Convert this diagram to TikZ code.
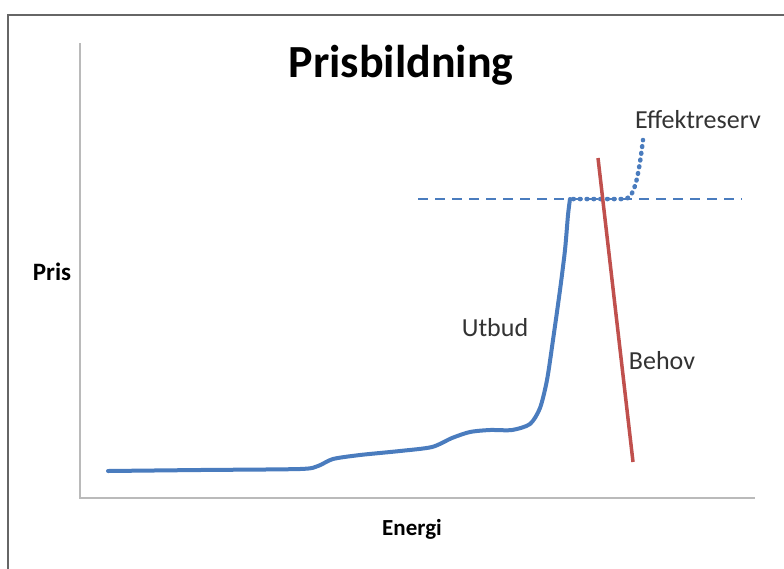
\documentclass[tikz,border=0pt]{standalone}
\usepackage{fontspec}
\setmainfont{Carlito}
\begin{document}
\begin{tikzpicture}[x=1pt,y=-1pt,
  frameline/.style={draw=black!60, line width=2pt},
  axisline/.style={draw=black!27, line width=2.5pt},
  supply/.style={draw=supplyblue, line width=4pt, line cap=round, line join=round},
  demand/.style={draw=demandred, line width=3.5pt},
  pricelevel/.style={draw=supplyblue, line width=2pt, dash pattern=on 10pt off 7pt},
  reserve/.style={draw=supplyblue, line width=4.5pt, line cap=round, dash pattern=on 0.8pt off 6pt},
  label/.style={text=black!80, font=\fontsize{26}{29}\selectfont, inner sep=0pt},
  boldlabel/.style={text=black, font=\fontsize{25}{28}\selectfont\bfseries, inner sep=0pt}
]
\definecolor{supplyblue}{RGB}{74,124,190}
\definecolor{demandred}{RGB}{192,80,77}
\useasboundingbox (0,0) rectangle (784,568);
\fill[white] (0,0) rectangle (784,568);

% slide frame (runs off to the right and bottom)
\coordinate (fTR) at (790,15);
\coordinate (fTL) at (8,15);
\coordinate (fBL) at (8,575);
\draw[frameline] (fTR) -- (fTL) -- (fBL);

% axes
\coordinate (yTop) at (80,43);
\coordinate (orig) at (80,498);
\coordinate (xEnd) at (755,498);
\draw[axisline] (yTop) -- (orig) -- (xEnd);

% price level and capacity reserve
\coordinate (pL) at (418,199);
\coordinate (pR) at (742,199);
\draw[pricelevel] (pL) -- (pR);
\draw[reserve] (573,199) -- (624,199) .. controls (634,199) and (638,180) .. (643,140);

% supply curve
\draw[supply] plot[smooth, tension=0.45] coordinates {
  (108,471) (200,470) (300,469) (318,466) (333,459) (360,455) (400,451)
  (432,447) (452,438) (470,432) (490,430) (512,430) (530,424) (540,408)
  (547,380) (553,340) (560,290) (565,250) (568,215) (570,199)};

% demand line
\coordinate (dTop) at (598,158);
\coordinate (dBot) at (633,462);
\draw[demand] (dTop) -- (dBot);

% texts
\node[text=black, font=\fontsize{46}{50}\selectfont\bfseries, inner sep=0pt] (title) at (401,65) {Prisbildning};
\node[boldlabel] (pris) at (52,272) {Pris};
\node[boldlabel, font=\fontsize{23}{26}\selectfont\bfseries] (energi) at (412,529) {Energi};
\node[label] (eff) at (698,120) {Effektreserv};
\node[label] (utbud) at (495,328) {Utbud};
\node[label] (behov) at (662,361) {Behov};
\end{tikzpicture}
\end{document}
